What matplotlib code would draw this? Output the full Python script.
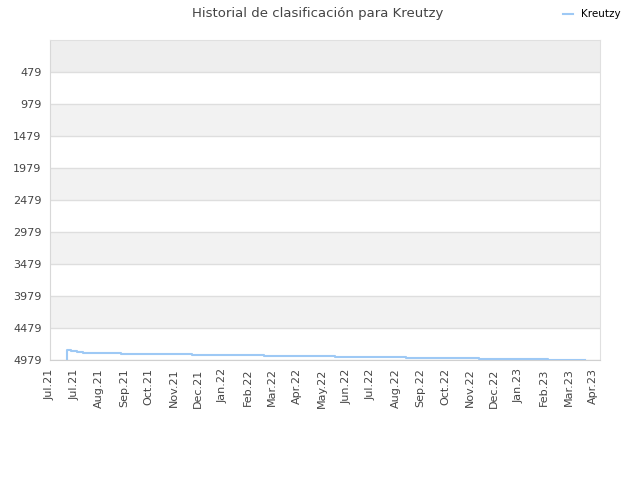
import numpy as np
import matplotlib
matplotlib.use("Agg")
import matplotlib.pyplot as plt

# month tick labels (equally spaced)
tick_labels = ["Jul.21", "Jul.21", "Aug.21", "Sep.21", "Oct.21", "Nov.21", "Dec.21",
               "Jan.22", "Feb.22", "Mar.22", "Apr.22", "May.22", "Jun.22", "Jul.22",
               "Aug.22", "Sep.22", "Oct.22", "Nov.22", "Dec.22", "Jan.23", "Feb.23",
               "Mar.23", "Apr.23"]

# ranking history (position on the month scale, rank)
pos = [0.70, 0.70, 0.85, 1.08, 1.35, 2.86, 5.75, 8.66, 11.54, 14.41, 17.36, 20.19, 21.66]
rank = [5000, 4819, 4834, 4850, 4865, 4881, 4895, 4910, 4926, 4942, 4956, 4973, 4973]

y_ticks = [479, 979, 1479, 1979, 2479, 2979, 3479, 3979, 4479, 4979]

fig = plt.figure(figsize=(6.4, 4.8), dpi=100)
ax = fig.add_axes([50 / 640, 1 - 360 / 480, 550 / 640, 320 / 480])

# alternating bands
edges = [-21] + y_ticks
for i in range(len(edges) - 1):
    if i % 2 == 0:
        ax.axhspan(edges[i], edges[i + 1], color="#f2f2f2" if i else "#eeeeee", zorder=0, lw=0)

for yt in y_ticks:
    ax.axhline(yt, color="#dedede", lw=1, zorder=1)

ax.step(pos, rank, where="post", color="#9ec9f5", lw=1.5, zorder=3, label="Kreutzy")

ax.set_ylim(4979, -21)
ax.set_xlim(0, 22.28)
ax.set_yticks(y_ticks)
ax.set_yticklabels([str(v) for v in y_ticks], fontsize=8, color="#444444")
ax.set_xticks(np.arange(len(tick_labels)))
ax.set_xticklabels(tick_labels, rotation=90, fontsize=8, color="#444444")
ax.tick_params(length=0, pad=6)

for s in ["top", "right"]:
    ax.spines[s].set_color("#e0e0e0")
ax.spines["left"].set_color("#d8d8d8")
ax.spines["bottom"].set_color("#d0d0d0")

fig.text(318 / 640, 1 - 13 / 480, "Historial de clasificación para Kreutzy",
         ha="center", va="center", fontsize=9.5, color="#444444")
fig.legend(loc="upper right", bbox_to_anchor=(0.985, 1.0), frameon=False,
           fontsize=7.5, handlelength=1.0, handletextpad=0.8)

fig.savefig("out.png", dpi=100)
